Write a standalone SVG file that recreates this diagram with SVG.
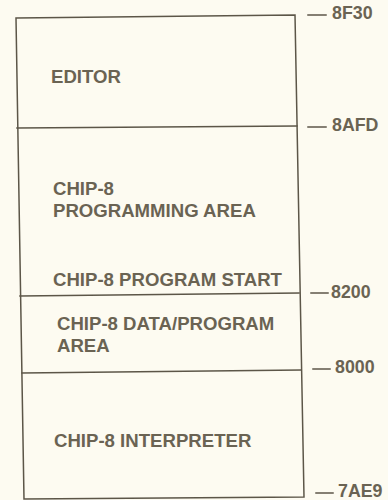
<svg xmlns="http://www.w3.org/2000/svg" width="388" height="500" viewBox="0 0 388 500">
<style>
.ln{fill:none;stroke:#5c5648;stroke-width:1.5;stroke-linecap:square}
.t{font-family:"Liberation Sans",Arial,sans-serif;font-weight:bold;font-size:18.6px;fill:#6a6353}
.a{font-family:"Liberation Sans",Arial,sans-serif;font-weight:bold;font-size:17.8px;fill:#6a6353}
</style>
<rect width="388" height="500" fill="#fdfbf1"/>
<g id="memory-map">
<path class="ln" d="M16,18 L295,15 L304,497 L24,499 Z"/>
</g>
<g id="connectors">
<path class="ln" d="M17,128 L297,126"/>
<path class="ln" d="M20,296 L299,293"/>
<path class="ln" d="M22,373 L301,370"/>
<path class="ln" d="M308,15 L326,15"/>
<path class="ln" d="M308,127 L326,127"/>
<path class="ln" d="M311,293 L328,293"/>
<path class="ln" d="M313,369 L330,369"/>
<path class="ln" d="M316,493 L333,493"/>
</g>
<g id="editor"><text class="t" x="51" y="83">EDITOR</text></g>
<g id="programming-area">
<text class="t" x="53" y="195">CHIP-8</text>
<text class="t" x="53" y="217">PROGRAMMING AREA</text>
<text class="t" x="53" y="286">CHIP-8 PROGRAM START</text>
</g>
<g id="data-area">
<text class="t" x="57" y="330">CHIP-8 DATA/PROGRAM</text>
<text class="t" x="57" y="352">AREA</text>
</g>
<g id="interpreter"><text class="t" x="54" y="447">CHIP-8 INTERPRETER</text></g>
<g id="addresses">
<text class="a" x="332" y="19">8F30</text>
<text class="a" x="332" y="131">8AFD</text>
<text class="a" x="331" y="298">8200</text>
<text class="a" x="335" y="373">8000</text>
<text class="a" x="338" y="497">7AE9</text>
</g>
</svg>
